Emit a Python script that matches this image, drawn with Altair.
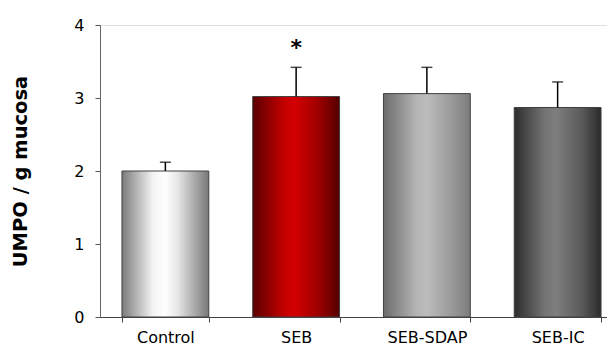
import altair as alt
import pandas as pd

categories = ["Control", "SEB", "SEB-SDAP", "SEB-IC"]
means = [2.0, 3.02, 3.06, 2.87]
errors = [0.12, 0.40, 0.36, 0.35]
star_labels = ["", "*", "", ""]

gradients = {
    "Control": [("#7b7b7b", 0.0), ("#f4f4f4", 0.36), ("#ffffff", 0.5), ("#e6e6e6", 0.64), ("#787878", 1.0)],
    "SEB": [("#5a0000", 0.0), ("#c80000", 0.38), ("#d30000", 0.48), ("#a00000", 0.75), ("#540000", 1.0)],
    "SEB-SDAP": [("#6c6c6c", 0.0), ("#b4b4b4", 0.38), ("#bcbcbc", 0.5), ("#9a9a9a", 0.78), ("#7c7c7c", 1.0)],
    "SEB-IC": [("#2c2c2c", 0.0), ("#747474", 0.35), ("#7e7e7e", 0.48), ("#5a5a5a", 0.78), ("#2a2a2a", 1.0)],
}

df = pd.DataFrame({
    "cat": categories,
    "mean": means,
    "err": errors,
    "top": [m + e for m, e in zip(means, errors)],
    "star": star_labels,
})

FONT = "DejaVu Sans"

x_scale = alt.Scale(domain=categories, range=[0, 523], paddingInner=0.336, paddingOuter=0.168)
y_scale = alt.Scale(domain=[0, 4], nice=False)

x_axis = alt.Axis(
    title=None,
    labelAngle=0,
    labelFont=FONT,
    labelFontSize=16,
    labelColor="#000000",
    labelPadding=7,
    tickBand="extent",
    tickSize=5,
    tickColor="#444444",
    domainColor="#444444",
    domainWidth=1,
    grid=False,
)

y_axis = alt.Axis(
    title="UMPO / g mucosa",
    values=[0, 1, 2, 3, 4],
    format="d",
    labelFont=FONT,
    labelFontSize=16,
    labelColor="#000000",
    labelPadding=11,
    tickSize=5,
    tickColor="#555555",
    domainColor="#666666",
    domainWidth=1,
    grid=False,
    titleFont=FONT,
    titleFontSize=19.5,
    titleFontWeight="bold",
    titleColor="#000000",
    titleX=-80,
    titleY=146,
    titleAngle=-90,
    titleAlign="center",
    titleBaseline="middle",
)

x_enc = alt.X("cat:N", scale=x_scale, sort=categories, axis=x_axis)

layers = []
for c in categories:
    grad = alt.Gradient(
        gradient="linear",
        stops=[alt.GradientStop(color=col, offset=off) for col, off in gradients[c]],
        x1=0, x2=1, y1=0, y2=0,
    )
    layers.append(
        alt.Chart(df)
        .transform_filter(alt.datum.cat == c)
        .mark_bar(color=grad, stroke="#404040", strokeWidth=1)
        .encode(x=x_enc, y=alt.Y("mean:Q", scale=y_scale, axis=y_axis))
    )

err_rule = alt.Chart(df).mark_rule(color="#000000", strokeWidth=1.5).encode(
    x=x_enc,
    y=alt.Y("mean:Q", scale=y_scale, axis=y_axis),
    y2="top:Q",
)

err_cap = alt.Chart(df).mark_tick(color="#000000", thickness=1.5, size=11).encode(
    x=x_enc,
    y=alt.Y("top:Q", scale=y_scale, axis=y_axis),
)

star = alt.Chart(df).mark_text(
    font=FONT, fontSize=22, fontWeight="bold", color="#000000", baseline="middle", dy=-19
).encode(
    x=x_enc,
    y=alt.Y("top:Q", scale=y_scale, axis=y_axis),
    text="star:N",
)

chart = alt.layer(*layers, err_rule, err_cap, star).properties(
    width=507,
    height=292,
    autosize=alt.AutoSizeParams(type="none"),
    padding={"left": 92, "top": 17, "right": 0, "bottom": 29},
).configure_view(stroke=None).configure(background="#ffffff")

chart.save("out.html", embed_options={"renderer": "svg", "actions": False})
